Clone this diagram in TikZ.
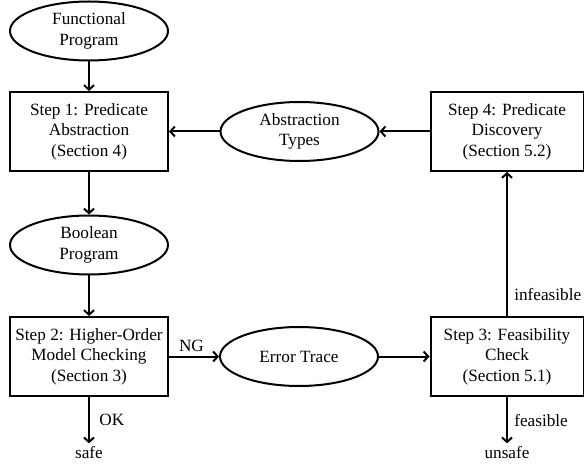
\documentclass[tikz,border=0pt]{standalone}
\usepackage{fontspec}
\setmainfont{Liberation Serif}
\usetikzlibrary{arrows.meta,shapes.geometric}

\begin{document}
\begin{tikzpicture}[x=1pt, y=-1pt, font=\fontsize{17.2}{20.5}\selectfont,
    block/.style={rectangle, draw, line width=2pt, minimum width=158pt, minimum height=79pt, align=center, inner sep=0pt},
    oval/.style={ellipse, draw, line width=2pt, minimum width=158pt, minimum height=59pt, align=center, inner sep=0pt},
    flow/.style={-{Straight Barb[length=4.5pt,width=10pt]}, line width=2pt}]
    \useasboundingbox (0,0) rectangle (584,465);
    \node[oval] (func) at (89,31) {Functional\\Program};
    \node[block] (s1) at (89,131.5) {Step 1: Predicate\\Abstraction\\(Section 4)};
    \node[oval] (bool) at (89,245) {Boolean\\Program};
    \node[block] (s2) at (89,356.5) {Step 2: Higher-Order\\Model Checking\\(Section 3)};
    \node (safe) at (89,453) {safe};
    \node[oval] (trace) at (299,356.5) {Error Trace};
    \node[block, minimum width=153pt] (s3) at (507,356.5) {Step 3: Feasibility\\Check\\(Section 5.1)};
    \node[block, minimum width=153pt] (s4) at (507,131.5) {Step 4: Predicate\\Discovery\\(Section 5.2)};
    \node[oval] (types) at (299.5,131.5) {Abstraction\\Types};
    \node (unsafe) at (507,453) {unsafe};
    \draw[flow] (func) -- (s1);
    \draw[flow] (s1) -- (bool);
    \draw[flow] (bool) -- (s2);
    \draw[flow] (s2) -- node[right, xshift=6pt] {OK} (safe);
    \draw[flow] (s2) -- node[above, pos=0.45] {NG} (trace);
    \draw[flow] (trace) -- (s3);
    \draw[flow] (s3) -- node[right, pos=0.15, xshift=3pt] {infeasible} (s4);
    \draw[flow] (s3) -- node[right, xshift=3pt] {feasible} (unsafe);
    \draw[flow] (s4) -- (types);
    \draw[flow] (types) -- (s1);
\end{tikzpicture}
\end{document}
